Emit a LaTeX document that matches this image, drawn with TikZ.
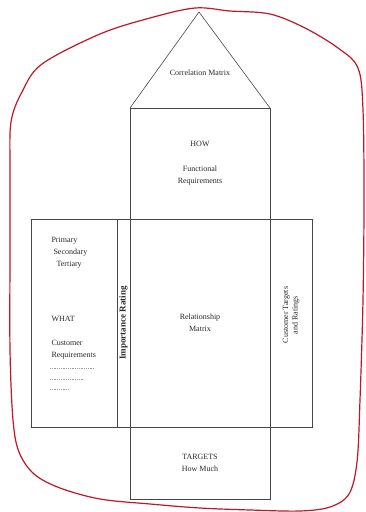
\documentclass[tikz,border=0pt]{standalone}
\usepackage{fontspec}
\setmainfont{Liberation Serif}
\usepackage{tikz}
\usetikzlibrary{positioning}
\definecolor{inkgray}{RGB}{40,40,40}
\definecolor{framegray}{RGB}{70,70,70}
\definecolor{markerred}{RGB}{192,22,38}

\begin{document}
\begin{tikzpicture}[x=1pt, y=-1pt,
    every node/.style={font=\fontsize{8}{12}\selectfont, text=inkgray},
    cell/.style={draw=framegray, line width=0.6pt, inner sep=0pt, outer sep=0pt},
    roofline/.style={draw=framegray, line width=0.6pt},
    dotrow/.style={draw=inkgray!45, line width=0.6pt, dash pattern=on 0.6pt off 1.2pt},
    marker/.style={draw=markerred, line width=1.2pt, line cap=round}]
    \useasboundingbox (0,0) rectangle (365,512);

    % Central column: relationship matrix, HOW and TARGETS
    \node[cell, minimum width=140pt, minimum height=208pt, align=center] (relmat) at (200,323) {Relationship\\Matrix};
    \node[cell, minimum width=140pt, minimum height=111pt, align=center, above=0pt of relmat] (how) {HOW\\[13pt]Functional\\Requirements};
    \node[cell, minimum width=140pt, minimum height=72pt, align=center, below=0pt of relmat] (targets) {TARGETS\\How Much};

    % Roof: correlation matrix
    \coordinate (apex) at (199,12);
    \draw[roofline] (how.north west) -- (apex) -- (how.north east);
    \node (corr) at (200,73) {Correlation Matrix};

    % Left wing: WHAT and importance rating
    \node[cell, minimum width=13pt, minimum height=208pt, left=0pt of relmat] (imp) {};
    \node[cell, minimum width=86pt, minimum height=208pt, left=0pt of imp] (what) {};
    \node[rotate=90, font=\fontsize{9}{12}\selectfont\bfseries] (implabel) at (imp) {Importance Rating};
    \node[anchor=west, align=left] (levels) at (48,253) {Primary\\\hspace{2pt}Secondary\\\hspace{5pt}Tertiary};
    \node[anchor=west] (whatlabel) at (48,319) {WHAT};
    \node[anchor=west, align=left] (custreq) at (48,349.5) {Customer\\Requirements};
    \foreach \yy/\len in {368/44, 379/34, 389/19}
        \draw[dotrow] (50,\yy) -- ++(\len,0);

    % Right wing: customer targets
    \node[cell, minimum width=42pt, minimum height=208pt, right=0pt of relmat] (custtarg) {};
    \node[rotate=90, align=center, font=\fontsize{8}{9.5}\selectfont] (targlabel) at (291,315) {Customer Targets\\and Ratings};

    % Hand-drawn red outline
    \draw[marker] plot[smooth cycle, tension=0.55] coordinates {
        (11,122) (22,92) (42,64) (100,34) (150,18) (195,8) (230,11) (270,14)
        (305,28) (338,48) (358,68) (363,110) (364,200) (363,300) (360,400)
        (357,462) (349,494) (330,507) (300,511) (250,510) (200,508) (150,504)
        (100,499) (60,488) (34,474) (19,452) (13,420) (10,350) (10,250) (10,170)};
\end{tikzpicture}
\end{document}
